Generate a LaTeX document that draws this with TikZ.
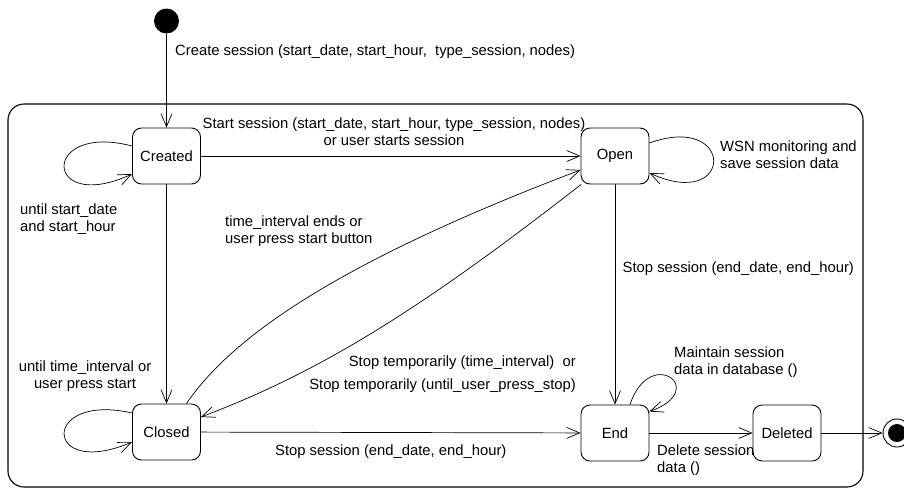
\documentclass[tikz,border=0pt]{standalone}
\usepackage{fontspec}
\setmainfont{Liberation Sans}
\usetikzlibrary{calc,arrows.meta}

\begin{document}
\begin{tikzpicture}[x=1pt,y=-1pt,font=\fontsize{14.8}{17}\selectfont,
    state/.style={draw,rounded corners=9pt,minimum width=68pt,minimum height=56pt,line width=0.9pt},
    guard/.style={inner sep=0pt,align=left,anchor=base west},
    link/.style={-{Straight Barb[length=13pt,width=11pt]},line width=0.7pt}]
  \useasboundingbox (0,0) rectangle (904,488);
  \node[draw,line width=1.1pt,rounded corners=16pt,minimum width=855pt,minimum height=383pt] (session) at (435.5,295.5) {};

  \node[circle,fill,inner sep=0pt,minimum size=25pt] (init) at (166.5,21) {};
  \node[state] (created) at (166.5,156) {Created};
  \node[state] (open) at (615,156) {Open};
  \node[state] (closed) at (166.5,432) {Closed};
  \node[state] (end) at (615,433) {End};
  \node[state] (deleted) at (787,433) {Deleted};
  \node[circle,draw,line width=0.9pt,inner sep=0pt,minimum size=28pt] (final) at (897,433) {};
  \fill (final.center) circle (9pt);

  \draw[link] (init) -- (created);
  \draw[link] (created) -- (open);
  \draw[link] (created) -- (closed);
  \draw[link] (open) -- (end);
  \draw[link] (closed) -- (end);
  \draw[link] (end) -- (deleted);
  \draw[link] (deleted) -- (final);
  \draw[link] (closed.55) .. controls (230,340) and (330,265) .. (open.202);
  \draw[link] (open.220) .. controls (420,310) and (320,372) .. ($(closed.east)+(0,-15)$);

  % self transitions
  \draw[link] ($(created.west)+(0,-10)$) .. controls +(-92,-24) and +(-89,41) .. ($(created.west)+(0,18)$);
  \draw[link] ($(closed.west)+(0,-19)$) .. controls +(-92,-21) and +(-89,38) .. ($(closed.west)+(0,10)$);
  \draw[link] ($(open.east)+(0,-13)$) .. controls +(86,-31) and +(85,39) .. ($(open.east)+(0,17)$);
  \draw[link] ($(end.north)+(15,0)$) .. controls +(20,-60) and +(61,-22) .. ($(end.north east)+(0,7)$);

  \node[guard] (create text) at (175,55) {Create session (start\_date, start\_hour, \ type\_session, nodes)};
  \node[guard,align=center,anchor=base] (start text) at (394,145) {Start session (start\_date, start\_hour, type\_session, nodes)\\or user starts session};
  \node[guard] (monitor text) at (720,168) {WSN monitoring and\\save session data};
  \node[guard] (wait text) at (20,231) {until start\_date\\and start\_hour};
  \node[guard] (resume text) at (225,243) {time\_interval ends or\\user press start button};
  \node[guard] (stop text) at (622.5,272) {Stop session (end\_date, end\_hour)};
  \node[guard,align=center,anchor=base] (pause text) at (85,388) {until time\_interval or\\user press start};
  \node[guard,align=right,anchor=base east] (halt text) at (576,389) {Stop temporarily (time\_interval) \ or\\[6pt]Stop temporarily (until\_user\_press\_stop)};
  \node[guard] (keep text) at (674,374) {Maintain session\\data in database ()};
  \node[guard] (close text) at (275,455) {Stop session (end\_date, end\_hour)};
  \node[guard] (delete text) at (657,472) {Delete session\\data ()};
\end{tikzpicture}
\end{document}
